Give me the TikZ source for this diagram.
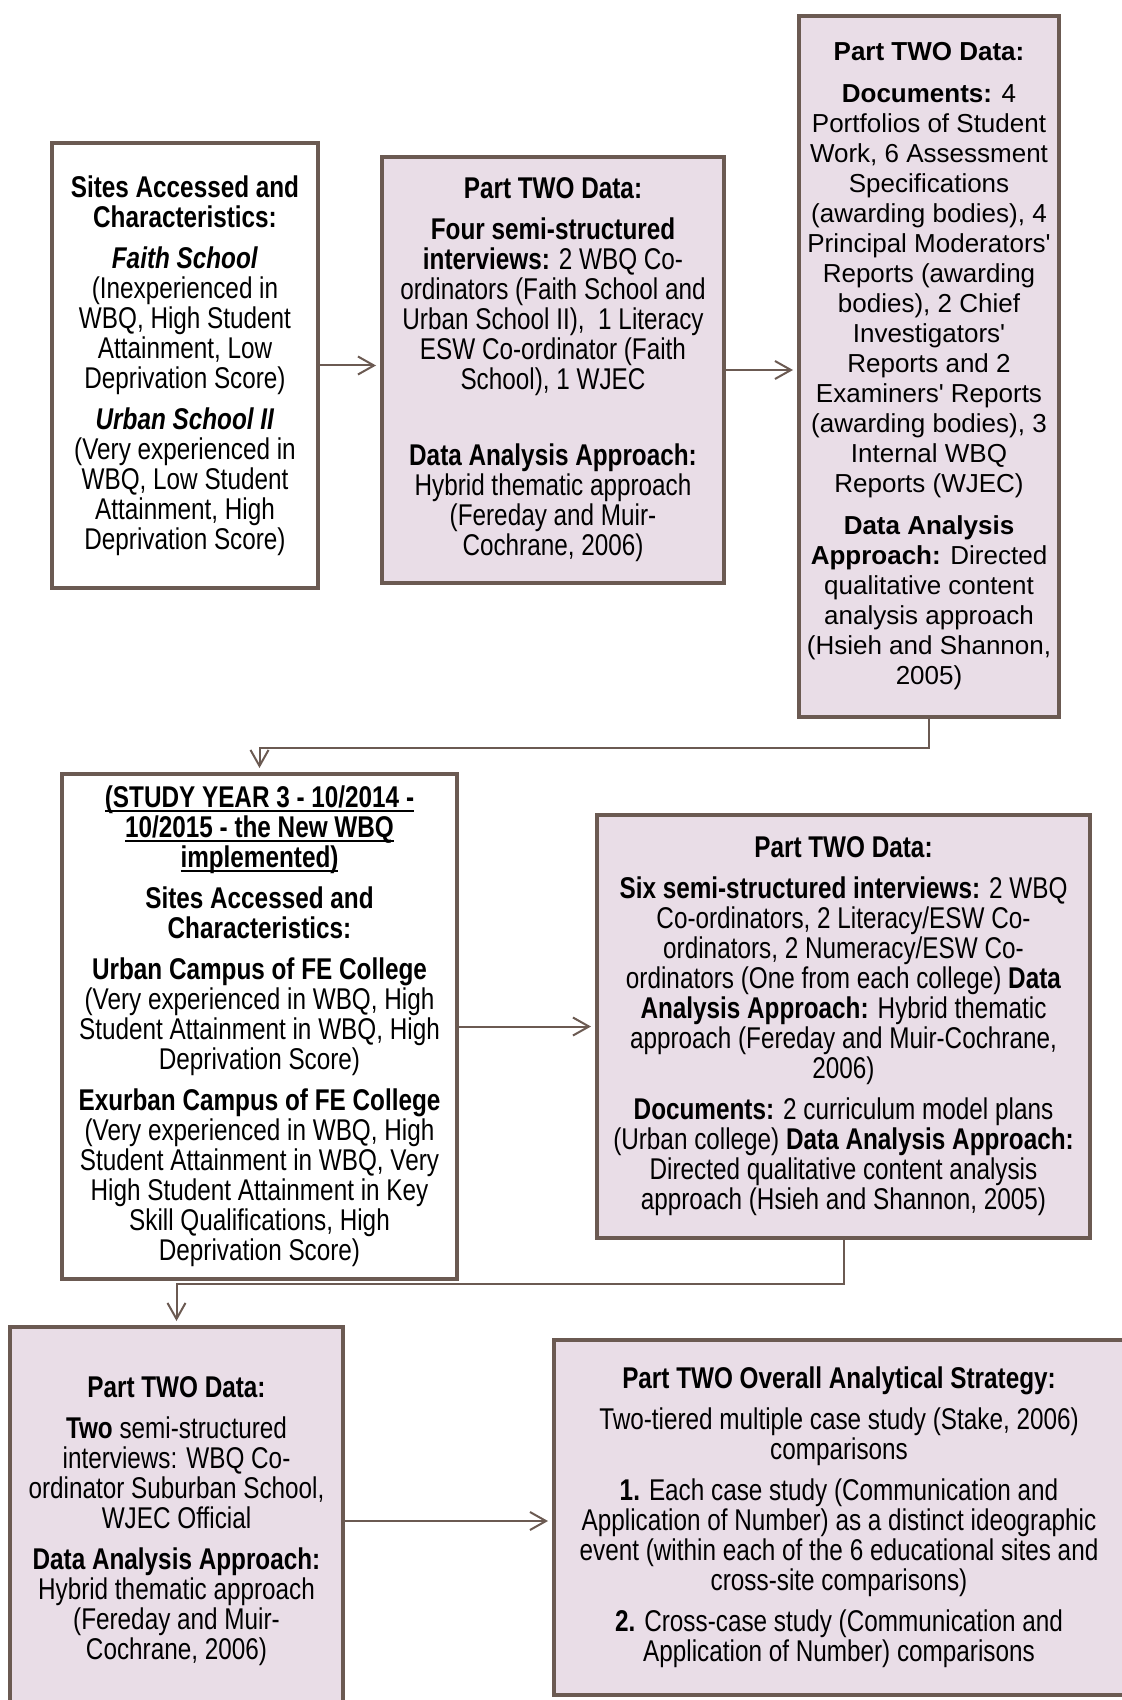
\documentclass[tikz,border=0pt]{standalone}
\usepackage{fontspec}
\setmainfont{Liberation Sans}[FakeStretch=0.81]
\newfontfamily\widefont{Liberation Sans}
\usepackage{tikz}
\usetikzlibrary{positioning}
\usetikzlibrary{arrows.meta}
\usepackage{xcolor}
\definecolor{boxline}{HTML}{6B5A52}
\definecolor{boxfill}{HTML}{E9DDE7}
\newcommand{\ulhead}[1]{\setbox0=\hbox{\textbf{#1}}\rlap{\rule[-2.2pt]{\wd0}{0.9pt}}\box0}

\begin{document}
\begin{tikzpicture}[x=0.5pt, y=-0.5pt,
    box/.style={draw=boxline, line width=2pt, align=center, inner sep=0pt,
        font=\fontsize{15}{15}\selectfont},
    pinkbox/.style={box, fill=boxfill},
    flow/.style={draw=boxline, line width=1pt, shorten >=2pt,
        -{Straight Barb[length=8pt, width=9pt]}}]

\useasboundingbox (0,0) rectangle (1122,1700);

% Study year 2: sites and data
\node[box, minimum width=133pt, minimum height=222.5pt] (sites1) at (185,365.5) {%
    \textbf{Sites Accessed and}\\ \textbf{Characteristics:}\\[5.5pt]
    \textbf{\textit{Faith School}}\\ (Inexperienced in\\ WBQ, High Student\\
    Attainment, Low\\ Deprivation Score)\\[5.5pt]
    \textbf{\textit{Urban School II}}\\ (Very experienced in\\ WBQ, Low Student\\
    Attainment, High\\ Deprivation Score)};

\node[pinkbox, minimum width=171pt, minimum height=213pt] (dataA) at (553,370) {%
    \textbf{Part TWO Data:}\\[5.5pt]
    \textbf{Four semi-structured}\\ \textbf{interviews:} 2 WBQ Co-\\
    ordinators (Faith School and\\ Urban School II), \ 1 Literacy\\
    ESW Co-ordinator (Faith\\ School), 1 WJEC\\[23pt]
    \textbf{Data Analysis Approach:}\\ Hybrid thematic approach\\
    (Fereday and Muir-\\ Cochrane, 2006)};

\node[pinkbox, minimum width=130pt, minimum height=350.5pt,
      font=\widefont\fontsize{13}{15}\selectfont] (docsA) at (929,366.5) {%
    \textbf{Part TWO Data:}\\[6pt]
    \textbf{Documents:} 4\\ Portfolios of Student\\ Work, 6 Assessment\\
    Specifications\\ (awarding bodies), 4\\ Principal Moderators'\\
    Reports (awarding\\ bodies), 2 Chief\\ Investigators'\\ Reports and 2\\
    Examiners' Reports\\ (awarding bodies), 3\\ Internal WBQ\\ Reports (WJEC)\\[6pt]
    \textbf{Data Analysis}\\ \textbf{Approach:} Directed\\ qualitative content\\
    analysis approach\\ (Hsieh and Shannon,\\ 2005)};

% Study year 3
\node[box, minimum width=197.5pt, minimum height=252.5pt] (sites2) at (259.5,1026.5) {%
    \ulhead{(STUDY YEAR 3 - 10/2014 -}\\
    \ulhead{10/2015 - the New WBQ}\\
    \ulhead{implemented)}\\[5.5pt]
    \textbf{Sites Accessed and}\\ \textbf{Characteristics:}\\[5.5pt]
    \textbf{Urban Campus of FE College}\\ (Very experienced in WBQ, High\\
    Student Attainment in WBQ, High\\ Deprivation Score)\\[5.5pt]
    \textbf{Exurban Campus of FE College}\\ (Very experienced in WBQ, High\\
    Student Attainment in WBQ, Very\\ High Student Attainment in Key\\
    Skill Qualifications, High\\ Deprivation Score)};

\node[pinkbox, minimum width=246.5pt, minimum height=211.5pt] (dataB) at (843.5,1026.5) {%
    \textbf{Part TWO Data:}\\[5.5pt]
    \textbf{Six semi-structured interviews:} 2 WBQ\\
    Co-ordinators, 2 Literacy/ESW Co-\\ ordinators, 2 Numeracy/ESW Co-\\
    ordinators (One from each college) \textbf{Data}\\
    \textbf{Analysis Approach:} Hybrid thematic\\
    approach (Fereday and Muir-Cochrane,\\ 2006)\\[5.5pt]
    \textbf{Documents:} 2 curriculum model plans\\
    (Urban college) \textbf{Data Analysis Approach:}\\
    Directed qualitative content analysis\\ approach (Hsieh and Shannon, 2005)};

\node[pinkbox, minimum width=166.5pt, minimum height=194pt] (dataC) at (176.5,1521) {%
    \textbf{Part TWO Data:}\\[5.5pt]
    \textbf{Two} semi-structured\\ interviews: WBQ Co-\\
    ordinator Suburban School,\\ WJEC Official\\[5.5pt]
    \textbf{Data Analysis Approach:}\\ Hybrid thematic approach\\
    (Fereday and Muir-\\ Cochrane, 2006)};

\node[pinkbox, minimum width=285pt, minimum height=177.5pt] (strategy) at (839,1517.5) {%
    \textbf{Part TWO Overall Analytical Strategy:}\\[5.5pt]
    Two-tiered multiple case study (Stake, 2006)\\ comparisons\\[5.5pt]
    \textbf{1.} Each case study (Communication and\\
    Application of Number) as a distinct ideographic\\
    event (within each of the 6 educational sites and\\
    cross-site comparisons)\\[5.5pt]
    \textbf{2.} Cross-case study (Communication and\\
    Application of Number) comparisons};

% Arrows between the boxes
\draw[flow] (sites1.east) -- (sites1.east -| dataA.west);
\draw[flow] (dataA.east) -- (dataA.east -| docsA.west);
\draw[flow] (docsA.south) -- ++(0,29) -| (sites2.north);
\draw[flow] (sites2.east) -- (sites2.east -| dataB.west);
\draw[flow] (dataB.south) -- ++(0,44) -| (dataC.north);
\draw[flow] (dataC.east) -- (dataC.east -| strategy.west);
\end{tikzpicture}
\end{document}
